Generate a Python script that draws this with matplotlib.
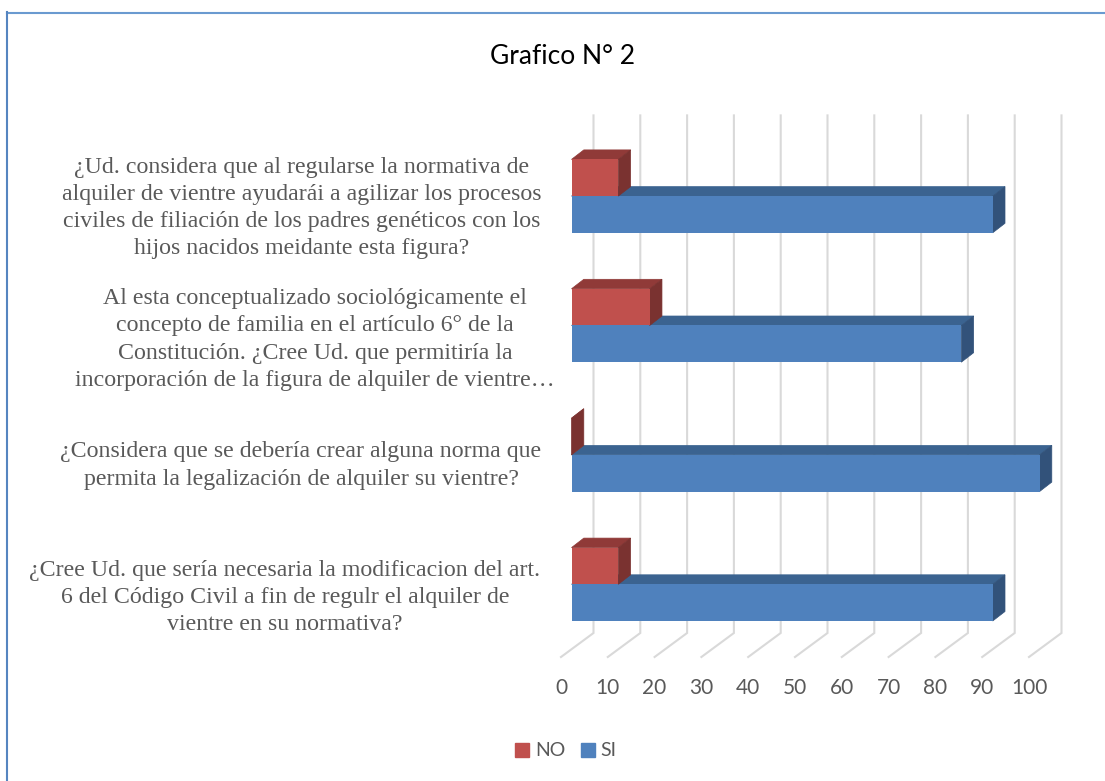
import matplotlib
matplotlib.use('Agg')
import matplotlib.pyplot as plt
from matplotlib.lines import Line2D
from matplotlib.patches import Polygon, Rectangle

W, H = 1105, 781

# bottom row first
labels = [
    "¿Cree Ud. que sería necesaria la modificacion del art.\n6 del Código Civil a fin de regulr el alquiler de\nvientre en su normativa?",
    "¿Considera que se debería crear alguna norma que\npermita la legalización de alquiler su vientre?",
    "Al esta conceptualizado sociológicamente el\nconcepto de familia en el artículo 6° de la\nConstitución. ¿Cree Ud. que permitiría la\nincorporación de la figura de alquiler de vientre…",
    "¿Ud. considera que al regularse la normativa de\nalquiler de vientre ayudarái a agilizar los procesos\nciviles de filiación de los padres genéticos con los\nhijos nacidos meidante esta figura?",
]
si = [90, 100, 83.3, 90]
no = [10, 0, 16.7, 10]
ticks = [0, 10, 20, 30, 40, 50, 60, 70, 80, 90, 100]

fig = plt.figure(figsize=(W / 100, H / 100), dpi=100)
fig.patch.set_facecolor('white')
# the frame only shows on the top and left
fig.add_artist(Line2D([7 / W, 1], [1 - 13 / H, 1 - 13 / H], color='#6A9AD0', lw=1.5))
fig.add_artist(Line2D([7 / W, 7 / W], [0, 1 - 12 / H], color='#5585C0', lw=1.5))

ax = fig.add_axes([561 / W, (H - 657) / H, 468 / W, 517.6 / H])
ax.set_xlim(0, 100)
ax.set_ylim(-0.5, 3.5)
for s in ax.spines.values():
    s.set_visible(False)
ax.patch.set_visible(False)

px_x = 100 / 468
px_y = 4 / 517.6

# back wall gridlines and floor
for t in ticks:
    xs = [t, t + 32.5 * px_x, t + 32.5 * px_x]
    ys = [-0.5, -0.5 + 24 * px_y, 3.5 + 24 * px_y]
    ax.plot(xs, ys, color='#D9D9D9', lw=1.5, clip_on=False, zorder=1, solid_joinstyle='miter')

x0 = 10.5 * px_x      # front of the bars starts here
dx = 12.3 * px_x      # depth of the bars
dy = 9.5 * px_y
shift = 8 * px_y
thick = 36.7 * px_y


def bar3d(value, low, high, front, top, side, z):
    a, b = x0, x0 + value
    ax.add_patch(Polygon([(a, high), (a + dx, high + dy), (b + dx, high + dy), (b, high)],
                         facecolor=top, edgecolor=top, lw=0.5, clip_on=False, zorder=z))
    ax.add_patch(Polygon([(b, low), (b + dx, low + dy), (b + dx, high + dy), (b, high)],
                         facecolor=side, edgecolor=side, lw=0.5, clip_on=False, zorder=z))
    ax.barh((low + high) / 2, value, left=a, height=high - low, color=front, lw=0,
            zorder=z + 0.1, clip_on=False)


for i in range(len(labels)):
    c = i + shift
    bar3d(si[i], c - thick, c, '#4F81BD', '#3B6390', '#32527A', 3 + i)
    bar3d(no[i], c, c + thick, '#C0504D', '#903A38', '#7A3230', 3.5 + i)

ax.set_xticks(ticks)
ax.set_xticklabels(ticks, fontsize=15, color='#595959', family='Lato')
ax.tick_params(axis='x', length=0, pad=15)
ax.set_yticks([])

# the wrapped labels are not centred on one line in the original
label_dx = [285 - 561, 301 - 561, 315 - 561, 302 - 561]
label_dy = [0.5, 3, -0.5, 1.5]
for i, lab in enumerate(labels):
    ax.annotate(lab, xy=(0, i), xycoords=('axes fraction', 'data'),
                xytext=(label_dx[i], label_dy[i]), textcoords='offset pixels',
                fontsize=17.2, family='Liberation Serif', color='#595959',
                ha='center', va='center_baseline', multialignment='center', linespacing=1.385)

fig.text(563 / W, 1 - 56.5 / H, 'Grafico N° 2', ha='center', va='center', fontsize=19,
         family='Lato', color='black')

handles = [Rectangle((0, 0), 1, 1, color='#C0504D'), Rectangle((0, 0), 1, 1, color='#4F81BD')]
fig.legend(handles, ['NO', 'SI'], ncol=2, frameon=False, loc='center',
           bbox_to_anchor=(566 / W, 1 - 751 / H), prop={'family': 'Lato', 'size': 14},
           labelcolor='#595959', handlelength=0.72, handleheight=0.72, handletextpad=0.3,
           columnspacing=0.8)

fig.savefig('out.png', dpi=100)
